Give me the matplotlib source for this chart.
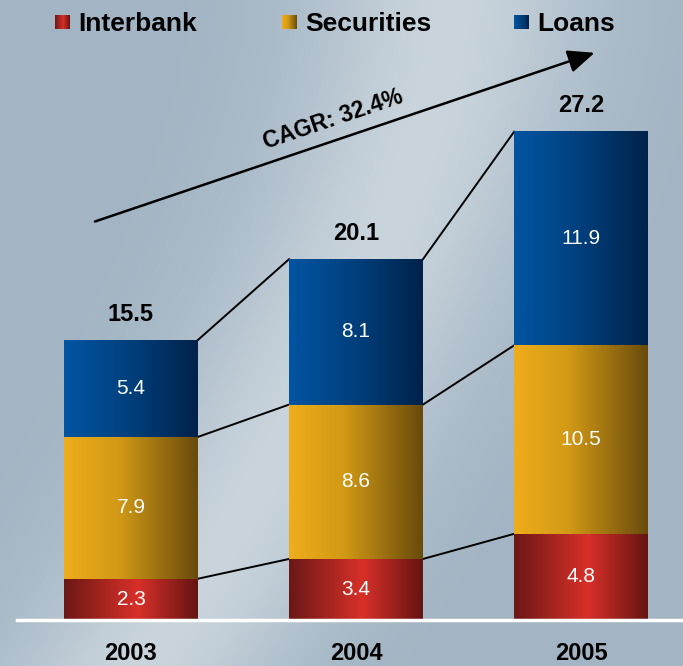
import numpy as np
import matplotlib
matplotlib.use('Agg')
import matplotlib.pyplot as plt
from matplotlib.colors import LinearSegmentedColormap

years = ['2003', '2004', '2005']
series = ['Interbank', 'Securities', 'Loans']
interbank = [2.3, 3.4, 4.8]
securities = [7.9, 8.6, 10.5]
loans = [5.4, 8.1, 11.9]
totals = [15.5, 20.1, 27.2]
cagr_label = 'CAGR: 32.4%'

plt.rcParams['font.family'] = ['Liberation Sans', 'DejaVu Sans']

# left-to-right shading for each series
cmaps = {
    'Interbank': LinearSegmentedColormap.from_list(
        'ib', [(0, '#6b1816'), (0.55, '#d83029'), (1, '#641412')]),
    'Securities': LinearSegmentedColormap.from_list(
        'sec', [(0, '#eead1c'), (0.4, '#d39a16'), (1, '#684a0b')]),
    'Loans': LinearSegmentedColormap.from_list(
        'ln', [(0, '#0055a2'), (0.5, '#003f7c'), (1, '#00224a')]),
}
grad = np.linspace(0, 1, 256)[None, :]

W, H = 683, 666
fig = plt.figure(figsize=(W / 100, H / 100), dpi=100)

# background: grey-blue with a light diagonal glow
bg = fig.add_axes([0, 0, 1, 1])
yy, xx = np.mgrid[0:1:300j, 0:1:300j]
centre = 0.66 - 0.45 * yy ** 1.5
glow = np.exp(-((xx - centre) / 0.2) ** 2)
base = np.array([163, 181, 196]) / 255
light = np.array([201, 212, 220]) / 255
img = base + glow[..., None] * (light - base)
bg.imshow(img, extent=[0, W, H, 0], aspect='auto', interpolation='bicubic')

# legend row
leg_x = [55, 282, 514]
for name, lx in zip(series, leg_x):
    bg.imshow(grad, cmap=cmaps[name], extent=[lx, lx + 15, 29, 15], aspect='auto')
    bg.text(lx + 23, 31, name, fontsize=19, fontweight='bold', va='baseline', ha='left')
bg.set_xlim(0, W)
bg.set_ylim(H, 0)
bg.axis('off')

# main chart
ax = fig.add_axes([0, 46 / H, 1, 620 / H])
ax.patch.set_visible(False)

x = np.arange(len(years))
width = 0.595
bottom = np.zeros(len(years))
for name, vals in zip(series, [interbank, securities, loans]):
    bars = ax.bar(x, vals, width, bottom=bottom, color=cmaps[name](0.5), zorder=2)
    for b, v in zip(bars, vals):
        x0, y0 = b.get_x(), b.get_y()
        ax.imshow(grad, cmap=cmaps[name], aspect='auto', zorder=3,
                  extent=[x0, x0 + b.get_width(), y0, y0 + b.get_height()])
        ax.text(x0 + b.get_width() / 2, y0 + b.get_height() / 2, f'{v:.1f}',
                ha='center', va='center', color='white', fontsize=15, zorder=5)
    bottom = bottom + np.array(vals)
    # lines joining the tops of each segment
    for i in range(len(x) - 1):
        ax.plot([x[i] + width / 2, x[i + 1] - width / 2], [bottom[i], bottom[i + 1]],
                color='black', lw=1.4, zorder=1)

for xi, top, t in zip(x, bottom, totals):
    ax.annotate(f'{t:.1f}', (xi, top), xytext=(0, 14), textcoords='offset points',
                ha='center', va='baseline', fontsize=17, fontweight='bold')

# growth arrow
ax.annotate('', xy=(2.06, 31.6), xytext=(-0.16, 22.2),
            arrowprops=dict(arrowstyle='-|>,head_length=0.65,head_width=0.28',
                            mutation_scale=25, color='black', lw=1.8,
                            shrinkA=0, shrinkB=0))
ax.text(0.90, 27.9, cagr_label, rotation=18.7, rotation_mode='anchor',
        ha='center', va='center', fontsize=16.5, fontweight='bold')

ax.axhline(0, xmin=0.025, xmax=1, color='white', lw=2.5, zorder=4, clip_on=False)

ax.set_xticks(x, years, fontsize=17, fontweight='bold')
ax.tick_params(axis='x', length=0, pad=15.5)
ax.set_yticks([])
for s in ax.spines.values():
    s.set_visible(False)
ax.set_xlim(-0.582, 2.453)
ax.set_ylim(0, 34.54)

fig.savefig('out.png', dpi=100)
